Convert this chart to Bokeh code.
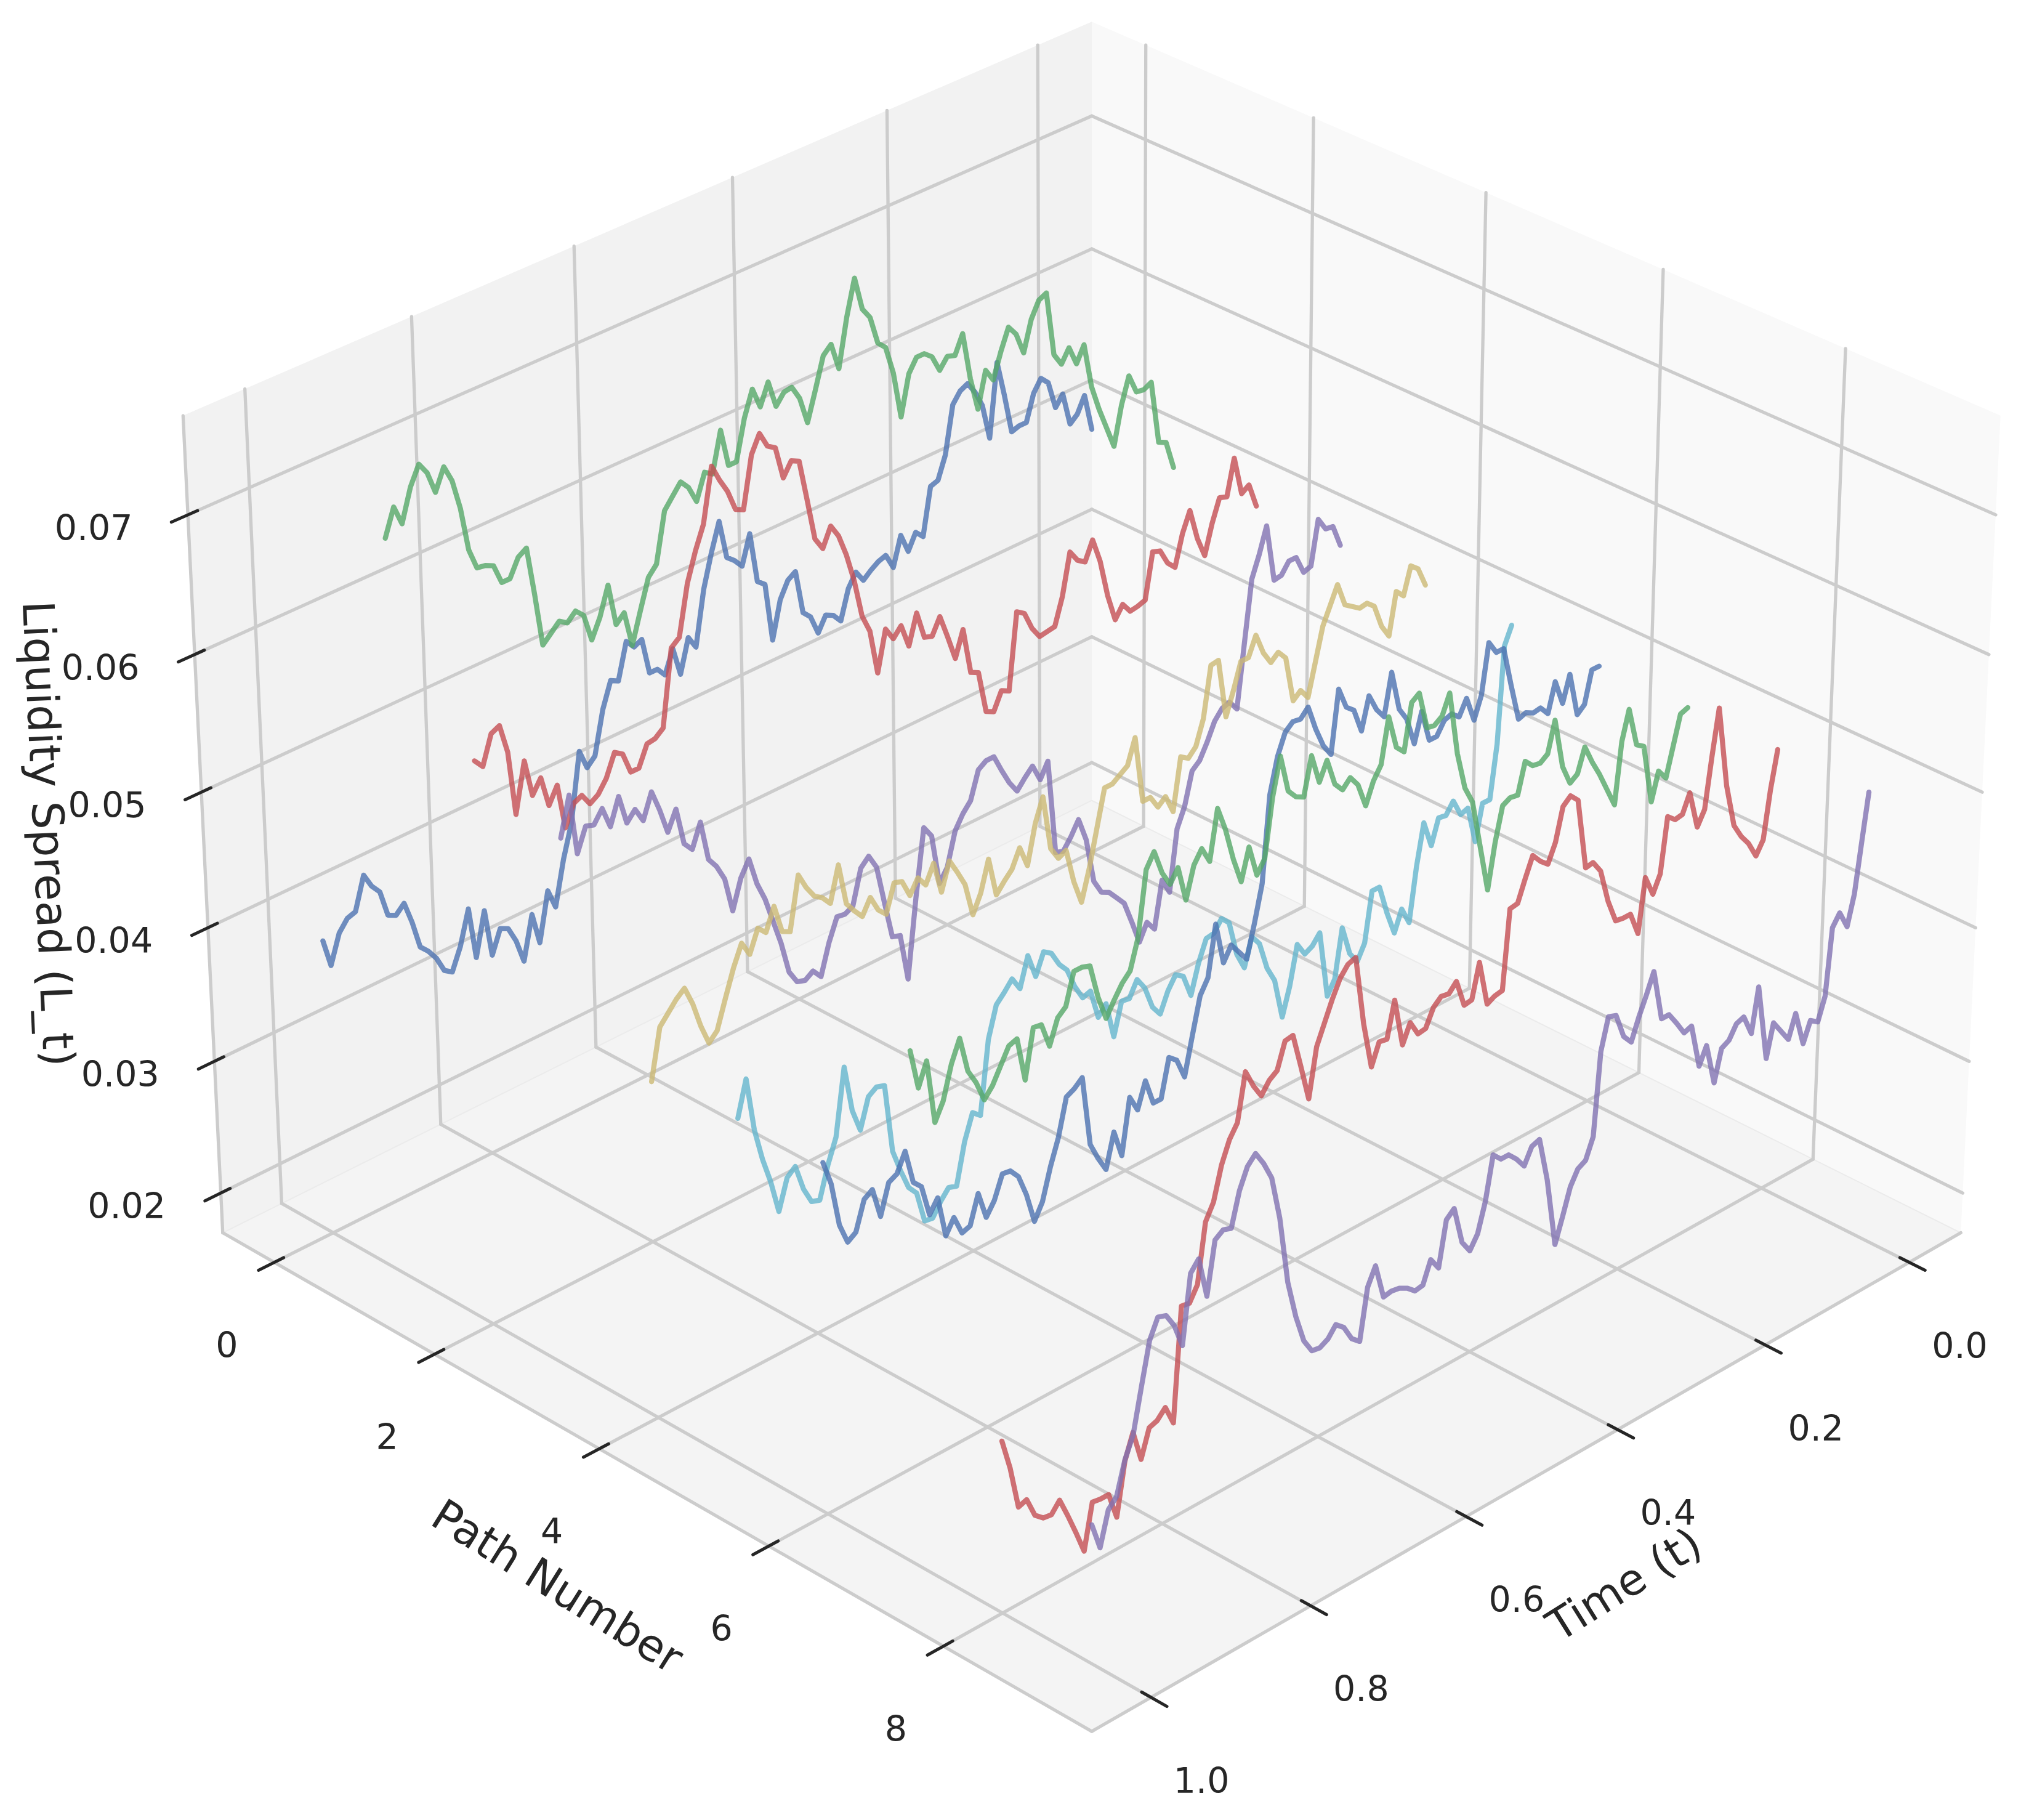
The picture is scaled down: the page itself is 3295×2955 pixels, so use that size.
from bokeh.core.properties import value
from bokeh.embed import file_html
from bokeh.models import ColumnDataSource, Range1d
from bokeh.plotting import figure
from bokeh.resources import INLINE
import numpy as np

# time runs from the far end of each path back to t=0
time_grid = [1.00, 0.99, 0.98, 0.97, 0.96, 0.95, 0.94, 0.93, 0.92, 0.91, 0.90, 0.89, 0.88, 0.87, 0.86, 0.85, 0.84,
             0.83, 0.82, 0.81, 0.80, 0.79, 0.78, 0.77, 0.76, 0.75, 0.74, 0.73, 0.72, 0.71, 0.70, 0.69, 0.68, 0.67,
             0.66, 0.65, 0.64, 0.63, 0.62, 0.61, 0.60, 0.59, 0.58, 0.57, 0.56, 0.55, 0.54, 0.53, 0.52, 0.51, 0.50,
             0.49, 0.48, 0.47, 0.46, 0.45, 0.44, 0.43, 0.42, 0.41, 0.40, 0.39, 0.38, 0.37, 0.36, 0.35, 0.34, 0.33,
             0.32, 0.31, 0.30, 0.29, 0.28, 0.27, 0.26, 0.25, 0.24, 0.23, 0.22, 0.21, 0.20, 0.19, 0.18, 0.17, 0.16,
             0.15, 0.14, 0.13, 0.12, 0.11, 0.10, 0.09, 0.08, 0.07, 0.06, 0.05, 0.04, 0.03, 0.02, 0.01, 0.00]

path_0 = [.0388,.0367,.0388,.0396,.0398,.0422,.0411,.0404,.0384,.0381,.0387,.0370,.0349,.0343,.0335,.0323,.0319,.0335,.0360,.0321,.0353,.0317,.0334,.0331,.0319,.0301,.0333,.0309,.0345,.0330,.0363,.0387,.0438,.0423,.0429,.0461,.0480,.0477,.0504,.0497,.0500,.0472,.0472,.0465,.0482,.0460,.0485,.0475,.0516,.0541,.0562,.0532,.0527,.0520,.0542,.0503,.0498,.0453,.0481,.0493,.0497,.0463,.0457,.0442,.0453,.0450,.0443,.0465,.0475,.0466,.0471,.0475,.0477,.0465,.0487,.0472,.0484,.0478,.0514,.0516,.0533,.0569,.0577,.0580,.0571,.0558,.0530,.0586,.0558,.0527,.0529,.0529,.0549,.0558,.0552,.0530,.0538,.0512,.0517,.0529,.0500]
path_1 = [.0720,.0740,.0725,.0749,.0763,.0754,.0737,.0753,.0740,.0717,.0684,.0668,.0667,.0664,.0649,.0649,.0662,.0666,.0629,.0589,.0595,.0601,.0597,.0603,.0597,.0576,.0590,.0611,.0579,.0585,.0558,.0581,.0603,.0610,.0647,.0655,.0663,.0656,.0643,.0662,.0658,.0688,.0659,.0659,.0689,.0708,.0692,.0708,.0687,.0695,.0696,.0685,.0664,.0686,.0709,.0715,.0694,.0730,.0757,.0731,.0722,.0700,.0694,.0672,.0636,.0666,.0676,.0676,.0671,.0658,.0666,.0664,.0678,.0641,.0615,.0642,.0632,.0651,.0667,.0659,.0642,.0665,.0677,.0680,.0630,.0620,.0630,.0615,.0627,.0592,.0572,.0555,.0538,.0567,.0587,.0572,.0571,.0574,.0525,.0522,.0500]
path_2 = [.0587,.0580,.0601,.0604,.0582,.0534,.0570,.0542,.0552,.0529,.0541,.0507,.0522,.0525,.0516,.0520,.0529,.0545,.0541,.0525,.0525,.0540,.0541,.0546,.0602,.0607,.0644,.0665,.0682,.0722,.0709,.0698,.0682,.0679,.0717,.0730,.0718,.0714,.0689,.0699,.0696,.0665,.0633,.0623,.0637,.0627,.0610,.0588,.0559,.0545,.0511,.0541,.0531,.0538,.0520,.0542,.0521,.0519,.0531,.0513,.0494,.0513,.0478,.0475,.0443,.0440,.0453,.0450,.0507,.0503,.0489,.0480,.0481,.0482,.0502,.0533,.0524,.0520,.0534,.0515,.0486,.0465,.0474,.0466,.0467,.0469,.0503,.0501,.0489,.0483,.0506,.0521,.0497,.0481,.0503,.0520,.0518,.0545,.0515,.0519,.0500]
path_3 = [.0562,.0590,.0545,.0562,.0560,.0569,.0553,.0572,.0550,.0557,.0546,.0564,.0548,.0529,.0543,.0515,.0508,.0525,.0495,.0487,.0475,.0449,.0470,.0481,.0460,.0446,.0427,.0408,.0384,.0374,.0372,.0376,.0369,.0391,.0407,.0406,.0409,.0434,.0440,.0429,.0400,.0372,.0370,.0335,.0392,.0441,.0432,.0394,.0403,.0427,.0437,.0444,.0464,.0468,.0468,.0455,.0443,.0434,.0441,.0447,.0434,.0445,.0374,.0372,.0380,.0390,.0372,.0338,.0327,.0324,.0317,.0310,.0293,.0275,.0287,.0279,.0313,.0301,.0346,.0360,.0384,.0389,.0400,.0413,.0420,.0422,.0414,.0461,.0507,.0523,.0542,.0498,.0499,.0507,.0507,.0493,.0495,.0528,.0518,.0517,.0500]
path_4 = [.0418,.0454,.0461,.0468,.0473,.0459,.0440,.0425,.0431,.0451,.0470,.0485,.0474,.0490,.0484,.0500,.0479,.0476,.0514,.0502,.0493,.0489,.0482,.0507,.0476,.0468,.0461,.0472,.0460,.0454,.0474,.0472,.0459,.0469,.0461,.0474,.0450,.0470,.0459,.0447,.0422,.0435,.0457,.0428,.0435,.0441,.0454,.0438,.0466,.0483,.0442,.0432,.0435,.0409,.0391,.0413,.0440,.0467,.0467,.0471,.0475,.0493,.0443,.0443,.0433,.0438,.0424,.0462,.0458,.0464,.0482,.0519,.0520,.0475,.0492,.0511,.0511,.0525,.0509,.0499,.0504,.0497,.0462,.0467,.0459,.0483,.0507,.0520,.0533,.0515,.0511,.0507,.0508,.0503,.0485,.0475,.0506,.0500,.0520,.0515,.0500]
path_5 = [.0425,.0450,.0411,.0387,.0368,.0344,.0365,.0370,.0351,.0339,.0337,.0359,.0376,.0423,.0389,.0372,.0393,.0397,.0395,.0345,.0328,.0313,.0306,.0283,.0282,.0291,.0298,.0296,.0325,.0343,.0338,.0390,.0412,.0418,.0425,.0415,.0436,.0418,.0433,.0429,.0418,.0411,.0396,.0385,.0387,.0365,.0372,.0345,.0368,.0367,.0378,.0369,.0352,.0344,.0358,.0367,.0363,.0346,.0367,.0382,.0383,.0391,.0385,.0359,.0346,.0366,.0358,.0337,.0325,.0295,.0315,.0343,.0333,.0336,.0343,.0293,.0303,.0338,.0316,.0307,.0318,.0354,.0354,.0332,.0314,.0329,.0316,.0355,.0385,.0365,.0383,.0382,.0390,.0377,.0379,.0351,.0377,.0377,.0416,.0487,.0500]
path_6 = [.0428,.0410,.0378,.0363,.0367,.0387,.0391,.0369,.0390,.0393,.0406,.0381,.0375,.0352,.0361,.0331,.0341,.0327,.0329,.0349,.0329,.0338,.0354,.0353,.0346,.0330,.0308,.0319,.0341,.0359,.0385,.0388,.0393,.0342,.0329,.0318,.0342,.0322,.0361,.0349,.0367,.0348,.0348,.0375,.0370,.0355,.0382,.0408,.0418,.0454,.0423,.0433,.0425,.0417,.0440,.0466,.0528,.0553,.0568,.0573,.0572,.0578,.0559,.0544,.0535,.0580,.0564,.0559,.0541,.0564,.0551,.0543,.0573,.0543,.0533,.0512,.0533,.0509,.0509,.0518,.0520,.0515,.0526,.0507,.0523,.0559,.0549,.0549,.0519,.0491,.0493,.0490,.0491,.0484,.0505,.0486,.0505,.0472,.0477,.0500,.0500]
path_7 = [.0540,.0511,.0527,.0481,.0493,.0516,.0531,.0505,.0494,.0479,.0486,.0497,.0508,.0510,.0478,.0512,.0511,.0493,.0510,.0515,.0537,.0537,.0535,.0510,.0492,.0502,.0511,.0517,.0538,.0583,.0593,.0575,.0564,.0573,.0547,.0569,.0578,.0566,.0601,.0583,.0559,.0540,.0562,.0539,.0548,.0589,.0616,.0588,.0581,.0578,.0605,.0583,.0596,.0576,.0569,.0575,.0567,.0549,.0564,.0573,.0605,.0580,.0574,.0607,.0611,.0583,.0582,.0586,.0600,.0553,.0525,.0512,.0477,.0442,.0474,.0498,.0501,.0500,.0522,.0516,.0515,.0519,.0541,.0504,.0489,.0493,.0510,.0496,.0484,.0470,.0456,.0500,.0521,.0492,.0488,.0444,.0464,.0456,.0477,.0498,.0500]
path_8 = [.0302,.0280,.0250,.0252,.0238,.0233,.0232,.0239,.0225,.0210,.0194,.0225,.0224,.0224,.0205,.0241,.0258,.0236,.0255,.0257,.0263,.0249,.0328,.0327,.0337,.0378,.0389,.0412,.0427,.0436,.0469,.0456,.0446,.0454,.0458,.0476,.0477,.0452,.0426,.0460,.0474,.0488,.0500,.0507,.0509,.0459,.0425,.0440,.0439,.0464,.0429,.0442,.0431,.0432,.0444,.0449,.0448,.0454,.0434,.0435,.0459,.0426,.0429,.0430,.0486,.0487,.0502,.0516,.0509,.0504,.0517,.0540,.0545,.0539,.0487,.0488,.0479,.0454,.0437,.0436,.0436,.0419,.0457,.0442,.0454,.0493,.0488,.0489,.0502,.0474,.0484,.0520,.0553,.0493,.0461,.0450,.0442,.0430,.0439,.0473,.0500]
path_9 = [.0280,.0261,.0284,.0290,.0312,.0326,.0356,.0385,.0398,.0396,.0386,.0369,.0416,.0423,.0394,.0430,.0434,.0432,.0455,.0469,.0475,.0465,.0452,.0421,.0373,.0346,.0326,.0316,.0315,.0318,.0325,.0320,.0309,.0304,.0339,.0351,.0326,.0327,.0326,.0323,.0318,.0319,.0334,.0325,.0356,.0361,.0334,.0325,.0334,.0354,.0384,.0378,.0378,.0372,.0364,.0375,.0377,.0345,.0296,.0313,.0331,.0341,.0344,.0358,.0416,.0438,.0436,.0418,.0411,.0426,.0439,.0453,.0416,.0416,.0407,.0397,.0399,.0367,.0379,.0349,.0371,.0374,.0383,.0385,.0370,.0401,.0346,.0369,.0360,.0351,.0367,.0342,.0356,.0352,.0368,.0415,.0423,.0410,.0431,.0466,.0500]

all_paths = [path_0, path_1, path_2, path_3, path_4, path_5, path_6, path_7, path_8, path_9]
# where each drawn path seems to stop along the time axis
path_end_time = [0.99, 1.013, 1.005, 1.002, 0.995, 0.995, 0.998, 1.0, 0.998, 1.0]
path_colors = ["#4C72B0", "#55A868", "#C44E52", "#8172B2", "#CCB974", "#64B5CD",
               "#4C72B0", "#55A868", "#C44E52", "#8172B2"]

time_ticks = [0.0, 0.2, 0.4, 0.6, 0.8, 1.0]
time_labels = ["0.0", "0.2", "0.4", "0.6", "0.8", "1.0"]
path_ticks = [0, 2, 4, 6, 8]
path_labels = ["0", "2", "4", "6", "8"]
spread_ticks = [0.02, 0.03, 0.04, 0.05, 0.06, 0.07]
spread_labels = ["0.02", "0.03", "0.04", "0.05", "0.06", "0.07"]

GRID = "#cccccc"
TEXT = "#262626"
FONT = value("DejaVu Sans")

# camera: elev 30, azim 45, eye 10 units from the box centre
cos_e, sin_e = np.cos(np.radians(30)), np.sin(np.radians(30))
half_w, half_h = 0.595, 0.4465
diag = half_w * np.sqrt(2)
margin = 0.0636
scale = 17146
cx, cy = 1772.5, 1352.5
dz_dl = 14.87


def box_point(a, b, z):
    # a, b run 0..1 along the time and path sides of the box, z is camera-space height
    d = diag * (a + b - 1)
    l = diag * (b - a)
    depth = 10 - cos_e * d - sin_e * z
    return cx + scale * l / depth, cy - scale * (-sin_e * d + cos_e * z) / depth, depth


def a_of(t):
    return margin + (1 - 2 * margin) * t


def b_of(p):
    return margin + (1 - 2 * margin) * p / 9


def z_of(v):
    return 0.0449 + dz_dl * (v - 0.05)


def wall(a, b, c):
    x, y, _ = box_point(a, b, -half_h + 2 * half_h * c)
    return x, y


def path_xy(p, times, values, t_end):
    xs, ys = [], []
    for t, v in zip(times, values):
        # heights are laid off from the 0.05 level, every path starts on it
        x, y, depth = box_point(a_of(t * t_end), b_of(p), z_of(0.05))
        xs.append(x)
        ys.append(y - (v - 0.05) * dz_dl * scale * cos_e / depth)
    return xs, ys


p = figure(width=3279, height=2939, x_range=Range1d(0, 3279), y_range=Range1d(2939, 0),
           output_backend="svg", toolbar_location=None, tools="", min_border=0)
p.axis.visible = False
p.grid.visible = False
p.outline_line_color = None
p.background_fill_color = "white"
p.border_fill_color = "white"

# panes
for corners, color in [([(0, 0, 0), (1, 0, 0), (1, 0, 1), (0, 0, 1)], "#f2f2f2"),
                       ([(0, 0, 0), (0, 1, 0), (0, 1, 1), (0, 0, 1)], "#f9f9f9"),
                       ([(0, 0, 0), (1, 0, 0), (1, 1, 0), (0, 1, 0)], "#f4f4f4")]:
    pts = [wall(*c) for c in corners]
    p.patch([q[0] for q in pts], [q[1] for q in pts], fill_color=color, line_color=None)

for a1, b1 in [(1, 0), (0, 1)]:
    p1, p2 = wall(0, 0, 0), wall(a1, b1, 0)
    p.line([p1[0], p2[0]], [p1[1], p2[1]], line_color="#ebebeb", line_width=2)


def seg(a1, b1, z1, a2, b2, z2, color=GRID, width=5.3):
    x1, y1, _ = box_point(a1, b1, z1)
    x2, y2, _ = box_point(a2, b2, z2)
    p.line([x1, x2], [y1, y2], line_color=color, line_width=width, line_cap="round")


floor, top = -half_h, half_h

# grid
for t in time_ticks:
    seg(a_of(t), 0, floor, a_of(t), 1, floor)
    seg(a_of(t), 0, floor, a_of(t), 0, top)
for n in path_ticks:
    seg(0, b_of(n), floor, 1, b_of(n), floor)
    seg(0, b_of(n), floor, 0, b_of(n), top)
for v in spread_ticks:
    seg(0, 0, z_of(v), 1, 0, z_of(v))
    seg(0, 0, z_of(v), 0, 1, z_of(v))

# box edges carrying the axes
seg(1, 0, floor, 1, 1, floor)
seg(0, 1, floor, 1, 1, floor)
seg(1, 0, floor, 1, 0, top)

# ticks and their labels
tick_x, tick_y, tick_text = [], [], []
for t, label in zip(time_ticks, time_labels):
    seg(a_of(t), 0.99, floor, a_of(t), 1.017, floor, TEXT, 5)
    x, y, _ = box_point(a_of(t), 1, floor)
    tick_x.append(x + 82)
    tick_y.append(y + 134)
    tick_text.append(label)
for n, label in zip(path_ticks, path_labels):
    seg(0.99, b_of(n), floor, 1.017, b_of(n), floor, TEXT, 5)
    x, y, _ = box_point(1, b_of(n), floor)
    tick_x.append(x - 77)
    tick_y.append(y + 133)
    tick_text.append(label)
for v, label in zip(spread_ticks, spread_labels):
    seg(0.99, 0, z_of(v), 1.017, 0, z_of(v), TEXT, 5)
    x, y, _ = box_point(1, 0, z_of(v))
    tick_x.append(x - 153)
    tick_y.append(y + 20)
    tick_text.append(label)

p.text(tick_x, tick_y, text=tick_text, text_font=FONT, text_font_size="57px",
       text_color=TEXT, text_align="center", text_baseline="middle")

# the simulated paths
for n, (values, color) in enumerate(zip(all_paths, path_colors)):
    assert len(values) == len(time_grid)
    xs, ys = path_xy(n, time_grid, values, path_end_time[n])
    source = ColumnDataSource(data=dict(x=xs, y=ys))
    p.line("x", "y", source=source, line_color=color, line_width=8.3, line_alpha=0.8,
           line_join="round", line_cap="round")

# axis titles
p.text([905], [2575], text=["Path Number"], angle=[np.radians(-32)], text_font=FONT,
       text_font_size="71px", text_color=TEXT, text_align="center", text_baseline="middle")
p.text([2637], [2572], text=["Time (t)"], angle=[np.radians(32)], text_font=FONT,
       text_font_size="71px", text_color=TEXT, text_align="center", text_baseline="middle")
p.text([78], [1353], text=["Liquidity Spread (L_t)"], angle=[np.radians(-87.4)], text_font=FONT,
       text_font_size="71px", text_color=TEXT, text_align="center", text_baseline="middle")

open("out.html", "w").write(file_html(p, INLINE))
